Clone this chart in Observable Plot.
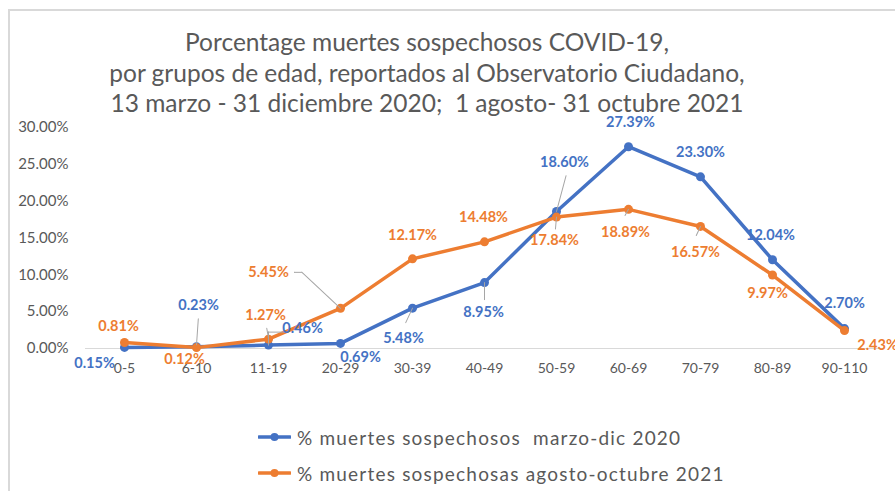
<!DOCTYPE html>
<html>
<head>
<meta charset="utf-8">
<script src="https://cdn.jsdelivr.net/npm/d3@7"></script>
<script src="https://cdn.jsdelivr.net/npm/@observablehq/plot@0.6"></script>
<style>
  html, body { margin: 0; padding: 0; background: #ffffff; }
  body { width: 895px; height: 491px; position: relative; overflow: hidden; font-family: Lato, "Open Sans", sans-serif; }
  #frame { position: absolute; left: 8px; top: 9px; width: 920px; height: 520px; border-left: 2px solid #d9d9d9; border-top: 2px solid #d9d9d9; }
  #title { position: absolute; left: 0; top: 27px; width: 854px; text-align: center; font-size: 24.5px; line-height: 30.5px; color: #595959; }
  #chart { position: absolute; left: 0; top: 115px; }
  #legend { position: absolute; left: 258px; top: 424px; color: #595959; font-size: 19px; }
  .item { display: flex; align-items: center; height: 26px; margin-bottom: 10px; white-space: pre; letter-spacing: 1.2px; }
  .item svg { margin-right: 6px; }
</style>
</head>
<body>
<div id="frame"></div>
<div id="title">Porcentage muertes sospechosos COVID-19,<br>por grupos de edad, reportados al Observatorio Ciudadano,<br>13 marzo - 31 diciembre 2020;&nbsp; 1 agosto- 31 octubre 2021</div>
<div id="chart"></div>
<div id="legend"></div>
<script>
// ---- data ----
const ageGroups = ["0-5", "6-10", "11-19", "20-29", "30-39", "40-49", "50-59", "60-69", "70-79", "80-89", "90-110"];
const deaths2020 = [0.15, 0.23, 0.46, 0.69, 5.48, 8.95, 18.60, 27.39, 23.30, 12.04, 2.70];
const deaths2021 = [0.81, 0.12, 1.27, 5.45, 12.17, 14.48, 17.84, 18.89, 16.57, 9.97, 2.43];
const seriesNames = ["% muertes sospechosos  marzo-dic 2020", "% muertes sospechosas agosto-octubre 2021"];
const yTickCount = 6;

// ---- styling / label layout (pixels) ----
const colors = ["#4472C4", "#ED7D31"];
const labelOffsets2020 = [[-30, 16], [2, -41], [34, -17], [20, 14], [-9, 30], [-1, 30], [8, -49], [2, -24], [0, -24], [-2, -24], [0, -25]];
const labelOffsets2021 = [[-6, -16], [-12, 12], [-3, -24], [-72, -36], [0, -23], [-1, -24], [-2, 23], [-3, 23], [-5, 26], [-5, 18], [33, 15]];
// leader lines: [seriesIndex, categoryIndex, length, rotate, dx, dy]
const leaders = [
  [0, 1, 26, 4, 0, -2],
  [0, 2, 13, 0, 0, 0],
  [0, 2, 16, 90, 0, -13],
  [1, 2, 10, -10, 0, -1],
  [1, 3, 53, -47, 0, 0],
  [1, 3, 7, -90, -39, -36],
  [0, 4, 16, 205, 0, 0],
  [0, 5, 17, 180, 0, 0],
  [0, 6, 37, 15, 0, 0],
  [1, 6, 12, 185, 0, 0],
  [1, 7, 7, 210, 0, 0],
  [1, 8, 10, 205, 0, 0]
];

const seriesValues = [deaths2020, deaths2021];
const rows = seriesValues.map((vals) => ageGroups.map((g, i) => ({group: g, value: vals[i]})));
const fmt = (v) => v.toFixed(2) + "%";

const marks = [
  Plot.ruleY([0], {stroke: "#d9d9d9", strokeWidth: 1})
];
rows.forEach((r, s) => {
  marks.push(Plot.line(r, {x: "group", y: "value", stroke: colors[s], strokeWidth: 3.5, strokeLinejoin: "round", strokeLinecap: "round"}));
  marks.push(Plot.dot(r, {x: "group", y: "value", r: 4.5, fill: colors[s], stroke: "none"}));
});
leaders.forEach(([s, i, len, rot, dx, dy]) => {
  marks.push(Plot.vector([rows[s][i]], {x: "group", y: "value", length: len, rotate: rot, anchor: "start", shape: "arrow", r: 0, stroke: "#a6a6a6", strokeWidth: 1, dx, dy}));
});
[labelOffsets2020, labelOffsets2021].forEach((offs, s) => {
  rows[s].forEach((d, i) => {
    marks.push(Plot.text([d], {x: "group", y: "value", text: (d) => fmt(d.value), dx: offs[i][0], dy: offs[i][1], fill: colors[s], fontWeight: "bold", fontSize: 14.5}));
  });
});

const chart = Plot.plot({
  width: 895,
  height: 265,
  marginLeft: 85,
  marginRight: 12,
  marginTop: 12,
  marginBottom: 32,
  style: {fontFamily: "Lato, 'Open Sans', sans-serif", fontSize: "14px", color: "#595959", background: "transparent", overflow: "visible"},
  x: {type: "point", domain: ageGroups, padding: 0.5, label: null, tickSize: 0, tickPadding: 15},
  y: {domain: [0, 30], ticks: yTickCount, tickFormat: fmt, label: null, tickSize: 0, tickPadding: 17},
  marks
});
chart.querySelectorAll("[aria-label='y-axis tick label'] text, g[aria-label='y-axis'] text").forEach((t) => t.setAttribute("font-size", "15"));
document.getElementById("chart").appendChild(chart);

// legend
const legend = document.getElementById("legend");
seriesNames.forEach((name, s) => {
  const item = document.createElement("div");
  item.className = "item";
  const sw = d3.create("svg").attr("width", 33).attr("height", 12);
  sw.append("line").attr("x1", 1).attr("x2", 32).attr("y1", 6).attr("y2", 6).attr("stroke", colors[s]).attr("stroke-width", 3.5).attr("stroke-linecap", "round");
  sw.append("circle").attr("cx", 16.5).attr("cy", 6).attr("r", 4).attr("fill", colors[s]);
  item.appendChild(sw.node());
  const t = document.createElement("span");
  t.textContent = name;
  item.appendChild(t);
  legend.appendChild(item);
});
</script>
</body>
</html>
